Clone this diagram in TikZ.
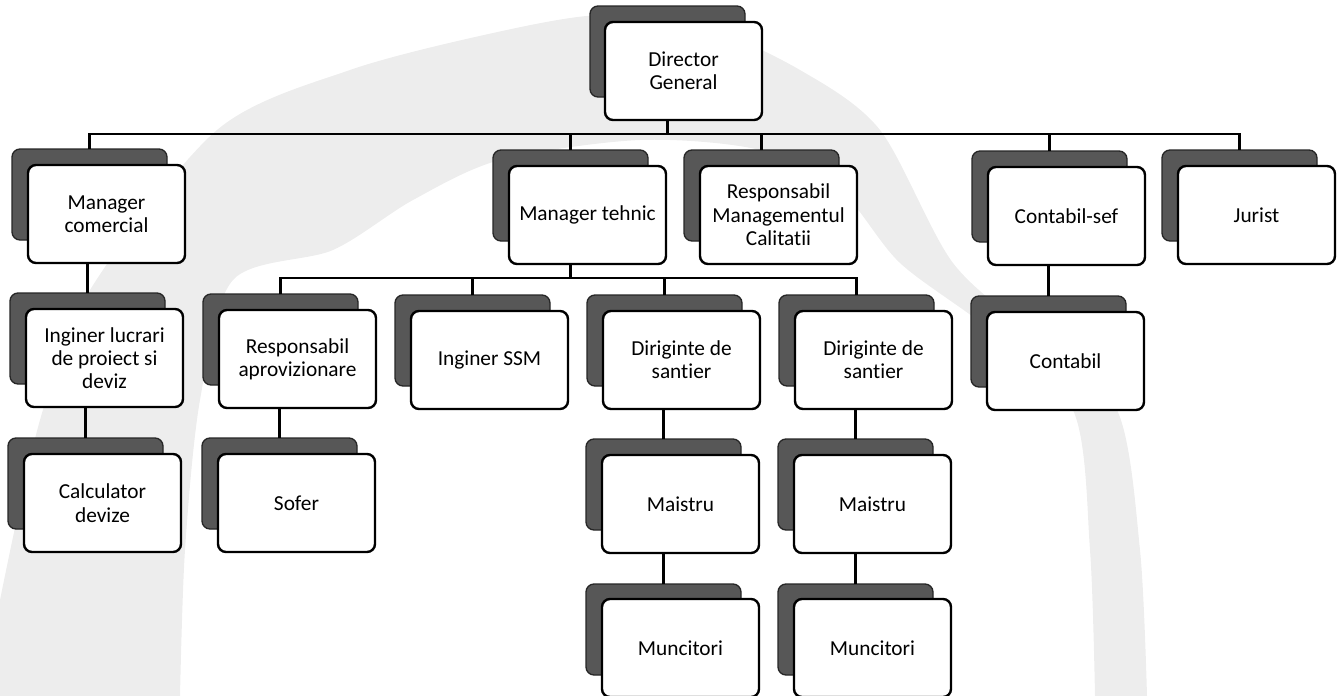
\documentclass[tikz,border=0pt]{standalone}
\usepackage{fontspec}
\setmainfont{Carlito}[Ligatures={NoCommon,NoRare}]
\usepackage{tikz}
\usetikzlibrary{positioning}

\tikzset{
  back/.style={draw=black!85, fill=black!66, rounded corners=6pt, line width=1pt,
    minimum width=116.25pt, minimum height=68.25pt, inner sep=0pt, outer sep=0pt, anchor=north west},
  front/.style={draw=black, fill=white, rounded corners=6pt, line width=1.8pt,
    minimum width=117.75pt, minimum height=73.5pt, inner sep=2pt, outer sep=0pt,
    align=center, anchor=north west, font=\fontsize{16}{17.5}\selectfont},
  link/.style={line width=1.8pt}
}

\begin{document}
\begin{tikzpicture}[x=0.75pt, y=-0.75pt]
\useasboundingbox (0,0) rectangle (1343,696);
% watermark
\fill[black!7] plot[smooth] coordinates {(0,600) (40,420) (90,290) (217,130) (350,70) (493,33) (600,15) (700,25) (800,70) (880,130) (953,263) (1040,340) (1117,410) (1140,550) (1147,696)}
  -- plot[smooth] coordinates {(1095,696) (1090,550) (1073,410) (990,330) (900,263) (840,190) (760,150) (640,140) (500,160) (413,200) (333,250) (233,280) (200,400) (185,550) (180,696)}
  -- (0,696) -- cycle;

% level 1
\node[back] (dg-b) at (590,6) {};
\node[front] (dg) at ([shift={(15,16)}]dg-b.north west) {Director\\General};

% level 2
\node[back] (mc-b) at (12,149) {};
\node[front] (mc) at ([shift={(16,16)}]mc-b.north west) {Manager\\comercial};
\node[back] (mt-b) at (493,150) {};
\node[front] (mt) at ([shift={(16,16)}]mt-b.north west) {Manager tehnic};
\node[back] (rmc-b) at (684,150) {};
\node[front] (rmc) at ([shift={(16,16)}]rmc-b.north west) {Responsabil\\Managementul\\Calitatii};
\node[back] (cs-b) at (972,151) {};
\node[front] (cs) at ([shift={(16,16)}]cs-b.north west) {Contabil-sef};
\node[back] (jur-b) at (1162,150) {};
\node[front] (jur) at ([shift={(16,16)}]jur-b.north west) {Jurist};

% level 3
\node[back] (il-b) at (10,293) {};
\node[front] (il) at ([shift={(16,16)}]il-b.north west) {Inginer lucrari\\de proiect si\\deviz};
\node[back] (ra-b) at (203,294) {};
\node[front] (ra) at ([shift={(16,16)}]ra-b.north west) {Responsabil\\aprovizionare};
\node[back] (ssm-b) at (395,295) {};
\node[front] (ssm) at ([shift={(16,16)}]ssm-b.north west) {Inginer SSM};
\node[back] (dd1-b) at (587,295) {};
\node[front] (dd1) at ([shift={(16,16)}]dd1-b.north west) {Diriginte de\\santier};
\node[back] (dd2-b) at (779,295) {};
\node[front] (dd2) at ([shift={(16,16)}]dd2-b.north west) {Diriginte de\\santier};
\node[back] (ct-b) at (971,296) {};
\node[front] (ct) at ([shift={(16,16)}]ct-b.north west) {Contabil};

% level 4
\node[back] (cd-b) at (8,438) {};
\node[front] (cd) at ([shift={(16,16)}]cd-b.north west) {Calculator\\devize};
\node[back] (sf-b) at (202,438) {};
\node[front] (sf) at ([shift={(16,16)}]sf-b.north west) {Sofer};
\node[back] (ms1-b) at (586,439) {};
\node[front] (ms1) at ([shift={(16,16)}]ms1-b.north west) {Maistru};
\node[back] (ms2-b) at (778,439) {};
\node[front] (ms2) at ([shift={(16,16)}]ms2-b.north west) {Maistru};

% level 5
\node[back] (mu1-b) at (586,584) {};
\node[front] (mu1) at ([shift={(16,15)}]mu1-b.north west) {Muncitori};
\node[back] (mu2-b) at (778,584) {};
\node[front] (mu2) at ([shift={(16,15)}]mu2-b.north west) {Muncitori};

% connectors
\coordinate (bus1) at (0,134);
\coordinate (bus2) at (0,278);
\draw[link] (dg-b |- dg.south) -- (dg-b |- bus1);
\draw[link] (mc-b.north) -- (mc-b |- bus1) -- (jur-b |- bus1) -- (jur-b.north);
\draw[link] (mt-b.north) -- (mt-b |- bus1);
\draw[link] (rmc-b.north) -- (rmc-b |- bus1);
\draw[link] (cs-b.north) -- (cs-b |- bus1);
\draw[link] (mt-b |- mt.south) -- (mt-b |- bus2);
\draw[link] (ra-b.north) -- (ra-b |- bus2) -- (dd2-b |- bus2) -- (dd2-b.north);
\draw[link] (ssm-b.north) -- (ssm-b |- bus2);
\draw[link] (dd1-b.north) -- (dd1-b |- bus2);
\draw[link] (il-b.north) -- (il-b |- mc.south);
\draw[link] (cd-b.north) -- (cd-b |- il.south);
\draw[link] (sf-b.north) -- (sf-b |- ra.south);
\draw[link] (ct-b.north) -- (ct-b |- cs.south);
\draw[link] (ms1-b.north) -- (ms1-b |- dd1.south);
\draw[link] (ms2-b.north) -- (ms2-b |- dd2.south);
\draw[link] (mu1-b.north) -- (mu1-b |- ms1.south);
\draw[link] (mu2-b.north) -- (mu2-b |- ms2.south);
\end{tikzpicture}
\end{document}
